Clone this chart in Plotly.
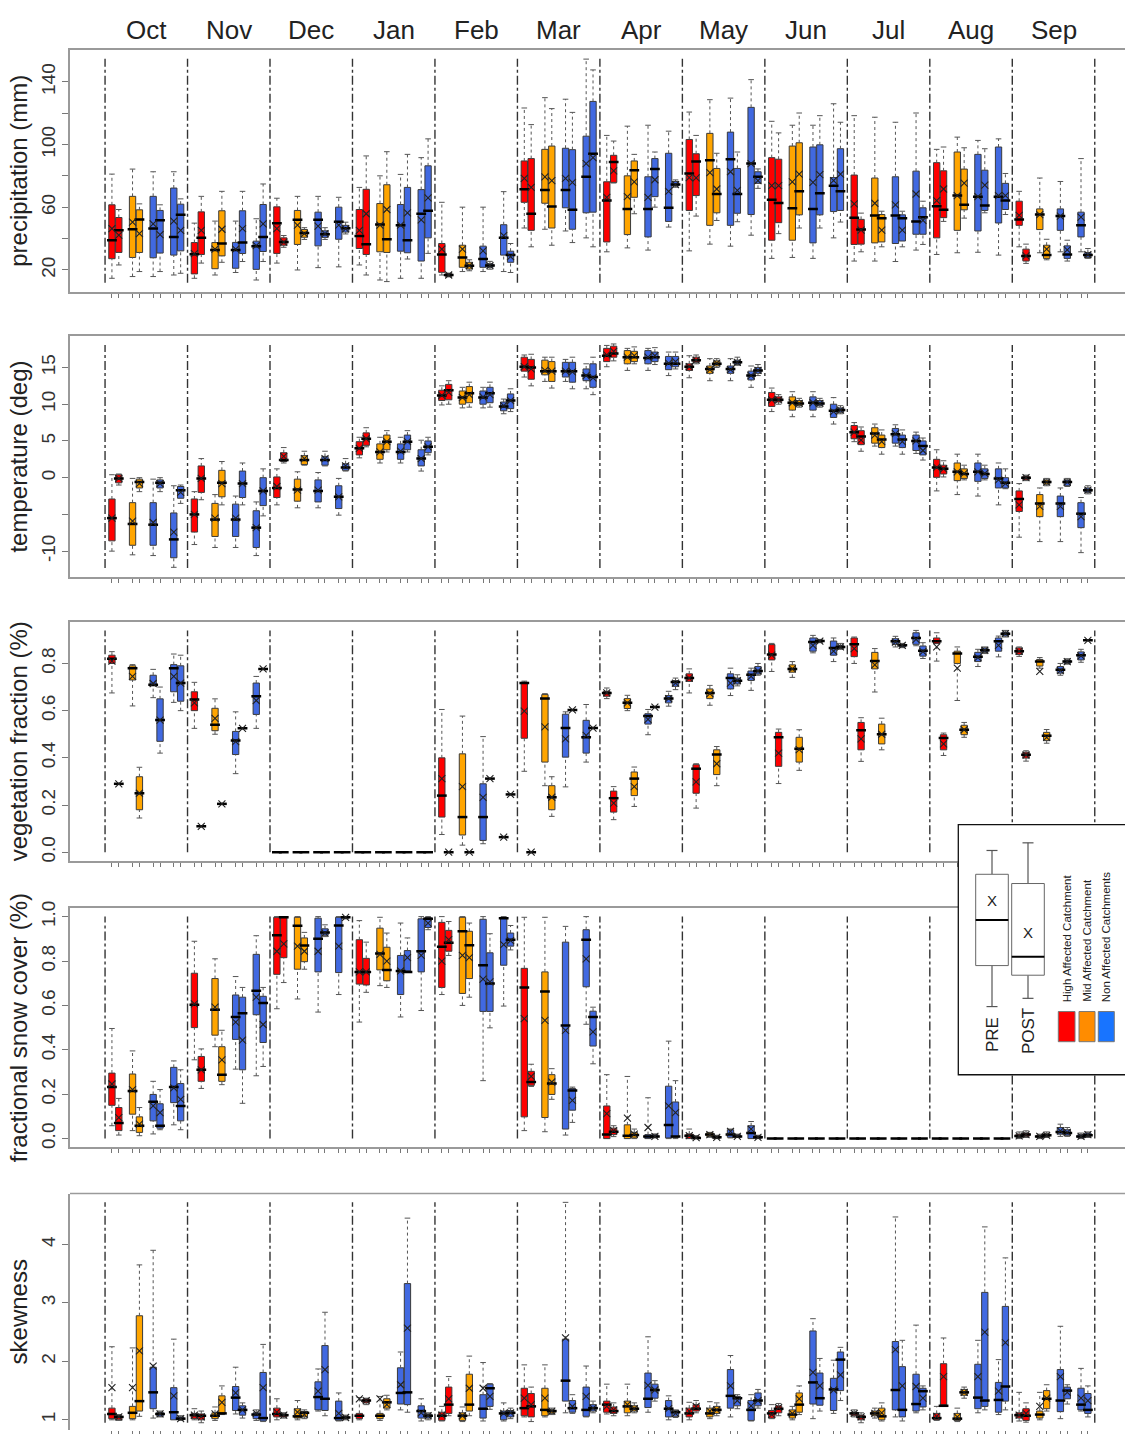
import plotly.graph_objects as go

MONTHS = ["Oct", "Nov", "Dec", "Jan", "Feb", "Mar", "Apr", "May", "Jun", "Jul", "Aug", "Sep"]
GROUPS = ["high", "mid", "non1", "non2"]
PERIODS = ["pre", "post"]
FILL = {"high": "#FF0000", "mid": "#FFA500", "non1": "#4169E1", "non2": "#4169E1"}
Z = (0, 0, 0, 0, 0, None)

# each entry: (whisker_low, q1, median, q3, whisker_high, mean)
# ---------------- precipitation (mm)
precip_high_pre = [(14.7,27.2,39,61.6,81.2,46.4),(14.7,17.5,30.1,37.5,49.9,30.4),(24.4,30.6,49.9,60.3,65.8,46.4),(23.2,33.7,41.7,58.6,72.7,45.3),(16.8,18.5,29.9,36.9,63.2,33.3),(46.8,63.2,71.5,89.6,123.4,78.5),(31.6,37.9,64.3,76.3,105.9,66.4),(32.2,58,81.6,103.3,120.8,79),(27.4,39,64.9,91.7,114.9,73.8),(25.7,36.3,53.4,80.6,118.5,62.2),(29.9,40.5,60.7,88.5,97,64.3),(34.8,48.5,52.3,63.9,70.2,54.8)]
precip_high_post = [(23.2,31.2,45.3,53.5,58.6,42.2),(24.4,29.9,40.5,57.1,67,45.3),(34.5,35.8,37.8,40.5,42,37.8),(16.8,29.9,36.5,71.5,92.8,55.9),(15.6,15.9,16.8,17.7,18.0,16.8),(34.8,45.3,55.9,91.1,112.8,72.7),(75.5,75.9,89,93.2,102.3,83.3),(54.4,67.5,89.2,94.2,105.9,78.8),(43.2,50.2,62.8,90.7,107.5,73.8),(31.6,36.5,45.8,52.3,56.3,45.5),(51,53.4,58.4,83.3,98.5,71.7),(24.2,25.7,29,33.3,36.5,29)]
precip_mid_pre = [(15.8,28,46,67,84.4,50.6),(16.8,20.8,32.7,37.5,51.2,33.3),(20,36.3,52,58,67,48.6),(13.6,31.6,49.1,62.4,80.1,48.6),(19,21.7,28,35.8,60.1,33.3),(46,62.6,71,97,130,79.5),(34.1,42.6,59,80.1,111.8,66.8),(36.5,48.5,90,107.2,128.7,82.2),(28,39,59.4,99.1,112.4,76.3),(25.7,37.3,54.8,78.7,117.5,62.6),(31,45.3,67.5,95.3,104.8,67.5),(31,45.8,55.4,59,78.7,55.4)]
precip_mid_post = [(19,31.2,52.3,58.4,62.2,43.2),(24.9,29,36.9,57.8,70.2,46),(39.5,40.9,43.6,45.8,47,43.2),(12.6,31.2,39.6,74.4,95.5,58.6),(19.5,20.6,22.7,24.9,26.5,22.7),(35.8,46.8,60.5,99.1,123,77),(55.9,66.4,83.7,89.6,93.8,76.3),(51.6,56.5,68.5,84.8,94.5,71.7),(46.8,55.2,70.2,101.2,120.2,81.2),(34.8,37.9,53.1,55.4,57.5,45.5),(53.1,58.4,61.6,84.4,98,75.5),(26.5,27.4,29.5,35.8,39.6,33.3)]
precip_non1_pre = [(15.8,27.8,46.4,67,82.7,49.5),(18.4,21.1,32.7,37.6,51.2,33.3),(21.5,35.4,52,56.9,67,48),(14.7,32,48.6,61.8,81,48.6),(19,21.7,27,35.2,60.1,32.2),(44.9,59.7,71,97.7,129,78.5),(32.7,41.1,59,79.5,112.4,66.4),(35.2,48.5,90.7,108,129.7,82.7),(27.4,37.3,59,98.5,112.4,75.9),(25.4,36.9,54.8,79.5,114.3,61.6),(31.3,44.9,66.8,93.8,102.7,66.8),(31.6,45.3,54.4,59,76.5,54.4)]
precip_non1_post = [(19,30.8,51.8,58,61.6,42.6),(25.4,30.5,37.6,57.8,70.2,46.4),(39.5,40.8,42.8,45,47,43.2),(27,31,39,72.7,93.8,56.5),(20.5,21.7,22.8,24,25.5,22.8),(37.5,46,58.4,96.8,120.6,75.9),(60.1,66.8,84.4,91.1,95.3,77.6),(50.8,56.2,68.5,84.8,95.3,70.8),(46.8,55.2,68.9,99.9,118.5,80.8),(34.8,38.5,53.1,55.2,57.5,45.5),(56.5,58,61.1,83.7,97.4,74.2),(25.7,27.4,29.9,35.4,39,32.8)]
precip_non2_pre = [(16.8,29.5,41,72.3,82.7,51.2),(13.6,20.4,35.2,38.4,52.7,35.6),(22,39.6,50.8,60.1,66.4,48.6),(14.7,25.7,55.9,71.3,91.7,52),(19,29.5,40.5,48.9,70,42),(40.5,56.5,79.5,105.4,154.6,87.9),(47.4,51,59.7,94.5,108.6,70.2),(42.2,55.4,87.9,123.8,141.5,87.9),(40.5,57.3,73.8,79,126.1,77),(32.7,42.8,51,83.1,120.2,68.5),(29.5,50,66.8,98.5,103.7,67.5),(31.6,41.1,48.5,56.9,91.1,53.7)]
precip_non2_post = [(17.9,32.2,55.2,62,65.4,45.3),(25.4,31.8,41,61.8,74.9,49.5),(43,44.2,46.6,48.5,50.5,46.2),(30.6,40.5,57.8,86.5,103.7,66),(18.4,24.9,29.5,32,36.9,28.5),(34.8,56.9,94.2,127.6,147.7,91.7),(72.8,73.6,74.5,76.5,77.5,74.5),(72.1,75.3,79.5,82.7,84.5,77),(50.6,58,70.2,97.4,114.3,81.2),(36.3,42.8,53.7,59.7,63.9,51.7),(55.4,58.6,64.3,75.3,81.6,67.5),(27.4,28,29.5,31.2,33.7,29.8)]

# ---------------- temperature (deg)
temp_high_pre = [(-10,-8.6,-5.5,-2.9,0.4,-5.5),(-9.1,-7.4,-5.0,-2.9,-1.9,-5.0),(-3.7,-2.7,-1.4,0.1,1.2,-1.2),(2.7,3.1,4.0,4.9,5.5,4.0),(9.9,10.5,11.2,11.9,12.5,11.2),(13.7,14.5,15.1,16.4,16.7,15.1),(15.1,15.8,16.6,17.6,18.0,16.7),(13.6,14.6,15.1,15.5,16.6,15.1),(9.0,9.7,10.6,11.6,12.2,10.6),(4.9,5.3,6.2,7.1,7.5,6.2),(-1.8,0.05,1.4,2.5,3.8,1.4),(-8.1,-4.6,-2.9,-1.8,-0.8,-3.7)]
temp_high_post = [(-1.0,-0.7,-0.1,0.4,0.5,-0.1),(-3.0,-2.0,-0.1,1.6,2.6,-0.1),(2.0,2.2,2.4,3.4,4.1,2.9),(4.2,4.4,5.3,6.1,6.8,5.3),(10.0,10.6,11.9,12.7,13.2,11.6),(12.5,13.4,15.0,16.1,16.8,14.8),(15.9,16.4,16.9,17.9,18.2,17.2),(15.5,15.7,16.0,16.4,16.7,16.0),(10.0,10.3,10.6,11.0,11.3,10.6),(3.6,4.5,5.6,6.4,6.9,5.1),(0.1,0.5,1.2,1.7,2.3,1.2),(-0.4,-0.3,0,0.2,0.35,0)]
temp_mid_pre = [(-10.5,-9.2,-6.3,-3.4,-0.1,-5.9),(-9.5,-8.0,-5.7,-3.5,-2.3,-5.5),(-4.1,-3.2,-1.6,-0.2,0.8,-1.7),(2.0,2.5,3.5,4.6,5.5,3.5),(9.5,10.0,10.9,11.8,12.3,10.9),(13.1,14.0,14.5,16.0,16.4,14.6),(14.6,15.5,16.4,17.3,17.6,16.4),(13.2,14.2,14.8,15.2,16.2,14.7),(8.3,9.2,10.2,11.0,11.7,10.2),(4.3,4.7,6.0,6.8,7.3,5.8),(-2.3,-0.4,0.8,2.0,3.2,0.8),(-8.7,-5.3,-3.5,-2.3,-1.4,-3.9)]
temp_mid_post = [(-1.9,-1.4,-0.6,-0.2,0,-0.8),(-3.7,-2.6,-0.7,1.0,2.2,-0.8),(1.7,1.8,2.4,3.0,3.6,2.6),(3.5,3.8,4.9,5.8,6.4,4.9),(9.6,10.2,11.5,12.4,13.0,11.3),(12.2,13.1,14.5,15.8,16.4,14.5),(15.5,15.8,16.4,17.2,17.8,16.6),(15.0,15.2,15.5,15.9,16.2,15.6),(9.6,9.8,10.1,10.5,10.8,10.1),(3.2,4.1,5.2,5.8,6.5,4.9),(-0.3,-0.1,0.5,1.2,1.7,0.6),(-1.1,-0.9,-0.6,-0.3,-0.1,-0.6)]
temp_non1_pre = [(-10.6,-9.2,-6.4,-3.4,-0.2,-6.1),(-9.5,-8.0,-5.7,-3.6,-2.5,-5.5),(-4.1,-3.3,-1.8,-0.3,0.7,-1.7),(2.0,2.5,3.5,4.6,5.5,3.6),(9.5,10.0,10.9,11.8,12.3,11.0),(13.1,13.7,14.5,15.7,16.1,14.5),(14.6,15.5,16.3,17.3,17.6,16.4),(13.2,14.2,14.8,15.2,16.2,14.7),(8.3,9.2,10.2,11.0,11.7,10.2),(4.3,4.7,5.9,6.7,7.2,6.0),(-2.5,-0.5,0.8,2.0,3.2,0.8),(-8.7,-5.3,-3.5,-2.5,-1.4,-3.9)]
temp_non1_post = [(-1.9,-1.4,-0.7,-0.3,0,-0.8),(-3.7,-2.7,-0.8,0.9,2.0,-0.8),(1.6,1.7,2.4,2.9,3.6,2.6),(3.5,3.8,4.9,5.8,6.4,4.9),(9.6,10.2,11.5,12.3,13.0,11.3),(12.1,13.0,14.5,15.7,16.4,14.4),(15.4,15.8,16.4,17.1,17.7,16.6),(15.3,15.4,15.7,16.0,16.4,15.7),(9.6,9.8,10.1,10.5,10.8,10.1),(3.2,4.1,5.2,5.8,6.5,4.9),(-0.3,-0.1,0.5,1.2,1.7,0.6),(-1.2,-1.1,-0.6,-0.3,-0.1,-0.6)]
temp_non2_pre = [(-12.2,-10.9,-8.4,-4.8,-1.1,-7.4),(-10.6,-9.5,-6.8,-4.5,-3.3,-6.8),(-5.1,-4.2,-2.6,-1.1,-0.1,-2.6),(0.9,1.6,2.6,3.8,5.1,2.6),(8.7,9.1,9.7,10.3,10.7,9.8),(12.1,13.2,13.9,14.8,15.5,13.9),(13.9,14.7,15.5,16.5,17.1,15.6),(12.3,13.3,13.9,14.5,15.2,13.9),(7.3,8.2,9.1,10.0,10.9,9.0),(3.3,3.7,5.0,5.8,6.2,5.0),(-3.7,-1.4,-0.1,1.2,2.0,-0.3),(-10.2,-6.8,-4.9,-3.4,-2.7,-5.3)]
temp_non2_post = [(-3.5,-2.8,-1.7,-1.2,-1.0,-2.0),(-5.2,-3.8,-1.8,0,1.2,-1.8),(0.9,1.0,1.4,1.9,2.6,1.6),(3.1,3.4,4.2,5.0,5.5,4.2),(9.0,9.4,10.5,11.4,12.1,10.5),(11.3,12.3,13.7,15.5,16.4,13.6),(14.8,15.1,15.5,16.5,17.1,15.8),(13.9,14.2,14.6,15.0,15.4,14.6),(8.7,8.9,9.2,9.5,9.8,9.2),(2.4,3.1,4.3,5.0,5.4,3.7),(-1.5,-1.4,-0.7,0,1.2,-0.8),(-2.2,-2.0,-1.7,-1.4,-1.1,-1.7)]

# ---------------- vegetation fraction
veg_high_pre = [(0.675,0.80,0.82,0.835,0.85,0.81),(0.525,0.60,0.647,0.68,0.72,0.633),Z,Z,(0.075,0.149,0.24,0.40,0.605,0.312),(0.343,0.483,0.717,0.72,0.725,0.598),(0.651,0.661,0.675,0.682,0.696,0.675),(0.675,0.724,0.738,0.756,0.777,0.738),(0.766,0.815,0.838,0.88,0.885,0.835),(0.80,0.829,0.881,0.908,0.912,0.863),(0.81,0.884,0.894,0.908,0.93,0.87),(0.83,0.838,0.852,0.866,0.87,0.852)]
veg_high_post = [(0.29,0.29,0.29,0.29,0.29,0.29),(0.11,0.11,0.11,0.11,0.11,0.11),Z,Z,(0,0,0,0,0,0),(0,0,0,0,0,0),(0.138,0.17,0.229,0.259,0.278,0.208),(0.187,0.25,0.354,0.371,0.375,0.298),(0.291,0.364,0.487,0.508,0.522,0.42),(0.385,0.434,0.517,0.55,0.57,0.48),(0.41,0.434,0.484,0.498,0.505,0.459),(0.386,0.399,0.413,0.424,0.43,0.412)]
veg_mid_pre = [(0.62,0.73,0.78,0.79,0.795,0.745),(0.50,0.515,0.54,0.61,0.65,0.567),Z,Z,(0.03,0.073,0.149,0.417,0.577,0.278),(0.282,0.382,0.651,0.668,0.672,0.531),(0.60,0.609,0.633,0.651,0.665,0.633),(0.623,0.651,0.675,0.692,0.707,0.672),(0.741,0.763,0.777,0.794,0.808,0.777),(0.679,0.777,0.81,0.847,0.863,0.794),(0.643,0.80,0.842,0.852,0.87,0.78),(0.78,0.789,0.808,0.817,0.825,0.766)]
veg_mid_post = [(0.145,0.18,0.25,0.32,0.36,0.25),(0.205,0.205,0.205,0.205,0.205,0.205),Z,Z,(0,0,0,0,0,0),(0.152,0.18,0.233,0.282,0.32,0.233),(0.194,0.24,0.312,0.34,0.361,0.278),(0.282,0.329,0.414,0.434,0.448,0.375),(0.347,0.382,0.438,0.487,0.519,0.435),(0.434,0.459,0.50,0.543,0.568,0.50),(0.487,0.498,0.519,0.538,0.55,0.519),(0.462,0.473,0.494,0.508,0.52,0.487)]
veg_non1_pre = [(0.655,0.705,0.71,0.75,0.775,0.715),(0.333,0.414,0.473,0.512,0.595,0.469),Z,Z,(0.036,0.05,0.149,0.29,0.49,0.232),(0.277,0.403,0.526,0.585,0.595,0.48),(0.498,0.543,0.577,0.587,0.605,0.563),(0.664,0.692,0.738,0.756,0.78,0.717),(0.845,0.852,0.891,0.908,0.919,0.877),(0.87,0.88,0.894,0.905,0.915,0.89),(0.787,0.808,0.828,0.847,0.86,0.825),(0.75,0.759,0.773,0.787,0.80,0.77)]
veg_non1_post = [(0.42,0.47,0.56,0.65,0.70,0.56),(0.525,0.525,0.525,0.525,0.525,0.525),Z,Z,(0.312,0.312,0.312,0.312,0.312,0.312),(0.603,0.603,0.603,0.603,0.603,0.603),(0.615,0.615,0.615,0.615,0.615,0.615),(0.705,0.713,0.727,0.738,0.752,0.727),(0.888,0.891,0.895,0.899,0.902,0.895),(0.867,0.87,0.877,0.881,0.885,0.877),(0.842,0.847,0.856,0.866,0.87,0.856),(0.797,0.80,0.808,0.815,0.82,0.808)]
veg_non2_pre = [(0.635,0.68,0.78,0.795,0.84,0.745),(0.525,0.584,0.661,0.717,0.745,0.643),Z,Z,(0.064,0.064,0.064,0.064,0.064,0.064),(0.382,0.42,0.487,0.559,0.626,0.495),(0.619,0.633,0.651,0.664,0.682,0.651),(0.686,0.728,0.752,0.768,0.78,0.745),(0.808,0.835,0.866,0.895,0.908,0.852),(0.875,0.881,0.908,0.93,0.94,0.902),(0.828,0.852,0.894,0.908,0.916,0.877),(0.805,0.815,0.835,0.849,0.86,0.832)]
veg_non2_post = [(0.60,0.64,0.717,0.79,0.835,0.717),(0.777,0.777,0.777,0.777,0.777,0.777),Z,Z,(0.245,0.245,0.245,0.245,0.245,0.245),(0.526,0.526,0.526,0.526,0.526,0.526),(0.689,0.703,0.721,0.727,0.738,0.717),(0.75,0.755,0.768,0.787,0.80,0.768),(0.86,0.863,0.87,0.877,0.885,0.87),(0.821,0.831,0.854,0.874,0.888,0.85),(0.912,0.916,0.926,0.933,0.94,0.926),(0.898,0.898,0.898,0.898,0.898,0.898)]

# ---------------- fractional snow cover
snow_high_pre = [(0.058,0.15,0.232,0.295,0.496,0.246),(0.355,0.50,0.603,0.745,0.889,0.607),(0.585,0.74,0.916,0.997,1.0,0.844),(0.525,0.696,0.751,0.896,0.982,0.751),(0.649,0.681,0.864,0.974,1.0,0.80),(0.036,0.098,0.681,0.767,0.997,0.54),(0,0,0.018,0.147,0.288,0.113),(0,0,0.013,0.021,0.043,0.013),Z,Z,Z,(0,0.005,0.012,0.02,0.03,0.012)]
snow_high_post = [(0.016,0.036,0.07,0.14,0.181,0.095),(0.226,0.258,0.31,0.37,0.404,0.31),(0.703,0.815,0.997,1.0,1.0,0.877),(0.659,0.692,0.751,0.812,0.885,0.751),(0.825,0.844,0.882,0.938,0.978,0.896),(0.235,0.24,0.255,0.303,0.335,0.28),(0.009,0.018,0.031,0.047,0.058,0.036),(0,0,0.003,0.01,0.013,0.004),Z,Z,Z,(0.005,0.01,0.018,0.025,0.035,0.018)]
snow_mid_pre = [(0.036,0.11,0.214,0.291,0.395,0.221),(0.414,0.466,0.58,0.721,0.81,0.592),(0.629,0.763,0.959,0.997,1.0,0.867),(0.689,0.76,0.834,0.948,0.997,0.83),(0.60,0.654,0.934,0.997,1.0,0.825),(0.031,0.095,0.663,0.751,0.997,0.533),(0,0,0.013,0.062,0.28,0.092),(0.006,0.009,0.018,0.028,0.028,0.018),Z,Z,Z,(0,0.005,0.01,0.015,0.02,0.01)]
snow_mid_post = [(0.013,0.028,0.058,0.098,0.14,0.065),(0.243,0.258,0.288,0.414,0.488,0.355),(0.763,0.797,0.87,0.904,0.929,0.844),(0.681,0.711,0.76,0.862,0.926,0.80),(0.637,0.721,0.871,0.934,0.971,0.815),(0.177,0.199,0.248,0.288,0.315,0.255),(0,0.003,0.016,0.028,0.043,0.02),(0,0,0.006,0.013,0.015,0.006),Z,Z,Z,(0.005,0.01,0.015,0.022,0.03,0.015)]
snow_non1_pre = [(0.021,0.08,0.166,0.199,0.258,0.147),(0.313,0.447,0.548,0.647,0.73,0.525),(0.57,0.751,0.90,0.993,1.0,0.844),(0.548,0.649,0.755,0.825,0.971,0.755),(0.261,0.573,0.781,0.988,1.0,0.718),(0.016,0.043,0.51,0.885,0.956,0.488),(0,0,0.009,0.018,0.184,0.05),(0.003,0.006,0.018,0.04,0.043,0.033),Z,Z,Z,(0.01,0.02,0.03,0.05,0.065,0.035)]
snow_non1_post = [(0.04,0.047,0.058,0.157,0.221,0.117),(0.159,0.31,0.565,0.637,0.681,0.444),(0.91,0.916,0.929,0.945,0.963,0.926),(0.751,0.751,0.751,0.847,0.904,0.815),(0.499,0.573,0.699,0.837,0.923,0.706),(0.073,0.128,0.217,0.226,0.232,0.172),(0.003,0.006,0.01,0.018,0.021,0.01),(0.006,0.006,0.01,0.018,0.02,0.01),Z,Z,Z,(0.01,0.015,0.025,0.04,0.05,0.028)]
snow_non2_pre = [(0.062,0.162,0.232,0.321,0.35,0.229),(0.283,0.558,0.666,0.83,0.914,0.637),(0.649,0.748,0.96,0.997,1.0,0.867),(0.577,0.751,0.844,0.99,1.0,0.825),(0.597,0.781,0.993,0.997,1.0,0.874),(0.515,0.684,0.896,0.941,1.0,0.81),(0,0.003,0.061,0.236,0.439,0.147),(0,0,0.025,0.058,0.077,0.043),Z,Z,Z,(0,0.003,0.01,0.018,0.025,0.01)]
snow_non2_post = [(0.04,0.08,0.147,0.248,0.31,0.177),(0.325,0.433,0.611,0.641,0.681,0.514),(0.99,0.993,0.997,1.0,1.0,0.997),(0.941,0.951,0.99,0.996,1.0,0.971),(0.85,0.867,0.896,0.926,0.96,0.892),(0.337,0.417,0.548,0.574,0.592,0.481),(0,0.006,0.01,0.165,0.261,0.117),(0,0,0.006,0.013,0.015,0.006),Z,Z,Z,(0.005,0.01,0.015,0.025,0.03,0.018)]

# ---------------- skewness
skew_high_pre = [(1.0,1.02,1.1,1.2,2.25,1.55),(1.0,1.02,1.08,1.11,1.19,1.08),(1.0,1.05,1.1,1.2,1.36,1.13),(1.0,1.02,1.07,1.11,1.38,1.36),(0.98,0.99,1.07,1.13,1.23,1.08),(1.05,1.07,1.2,1.54,1.94,1.37),(1.1,1.13,1.26,1.32,1.61,1.23),(1.0,1.05,1.11,1.2,1.3,1.15),(1.02,1.03,1.11,1.16,1.26,1.09),(1.05,1.07,1.11,1.13,1.17,1.11),(0.99,1.0,1.03,1.11,1.23,1.06),(0.98,1.03,1.08,1.12,1.47,1.08)]
skew_high_post = [(0.99,1.0,1.05,1.07,1.09,1.05),(0.95,1.0,1.07,1.1,1.15,1.05),(1.03,1.05,1.08,1.1,1.12,1.08),(1.26,1.29,1.33,1.36,1.37,1.33),(1.07,1.11,1.26,1.56,1.74,1.36),(0.97,1.05,1.23,1.45,1.56,1.26),(1.07,1.11,1.15,1.22,1.29,1.17),(1.12,1.15,1.19,1.26,1.33,1.23),(1.07,1.12,1.19,1.24,1.28,1.21),(0.95,1.0,1.05,1.08,1.12,1.05),(1.23,1.24,1.24,1.96,2.4,1.74),(0.96,0.99,1.07,1.19,1.29,1.11)]
skew_mid_pre = [(1.0,1.02,1.12,1.23,2.23,1.55),(0.99,1.02,1.07,1.12,1.22,1.1),(1.0,1.03,1.06,1.19,1.33,1.13),(0.99,1.02,1.07,1.11,1.4,1.36),(0.97,0.99,1.07,1.12,1.22,1.07),(1.05,1.07,1.17,1.54,1.94,1.37),(1.07,1.12,1.23,1.32,1.61,1.26),(1.02,1.05,1.11,1.2,1.31,1.15),(1.0,1.03,1.09,1.17,1.23,1.11),(1.03,1.07,1.11,1.15,1.2,1.11),(0.97,0.99,1.02,1.11,1.2,1.05),(1.0,1.03,1.09,1.15,1.47,1.23)]
skew_mid_post = [(1.06,1.15,1.32,2.78,3.65,2.18),(1.09,1.1,1.11,1.41,1.58,1.3),(1.02,1.05,1.12,1.14,1.17,1.09),(1.17,1.2,1.3,1.36,1.42,1.26),(1.07,1.15,1.26,1.78,2.09,1.54),(1.09,1.11,1.15,1.17,1.2,1.15),(1.12,1.15,1.19,1.24,1.29,1.19),(1.07,1.11,1.17,1.23,1.29,1.17),(1.09,1.13,1.26,1.46,1.58,1.36),(0.98,1.0,1.06,1.2,1.29,1.12),(1.37,1.42,1.47,1.52,1.56,1.47),(1.15,1.19,1.36,1.5,1.6,1.37)]
skew_non1_pre = [(1.03,1.19,1.47,1.9,3.9,1.92),(1.1,1.16,1.38,1.57,1.9,1.46),(1.15,1.17,1.39,1.65,1.87,1.49),(1.17,1.27,1.46,1.89,2.16,1.6),(0.98,1.03,1.19,1.43,1.98,1.54),(1.12,1.32,1.67,2.38,4.72,2.4),(1.13,1.21,1.36,1.8,2.42,1.59),(1.05,1.2,1.41,1.86,2.1,1.58),(1.02,1.27,1.64,2.52,2.73,1.81),(1.05,1.17,1.51,2.34,4.47,2.2),(1.12,1.19,1.38,1.95,2.36,1.74),(1.02,1.14,1.33,1.86,2.6,1.74)]
skew_non1_post = [(1.05,1.06,1.1,1.13,1.15,1.1),(1.03,1.08,1.17,1.24,1.29,1.17),(1.07,1.16,1.36,2.27,2.84,1.86),(1.13,1.26,1.47,3.33,4.45,2.57),(1.18,1.23,1.54,1.61,1.62,1.4),(1.11,1.13,1.2,1.33,1.43,1.23),(1.32,1.37,1.51,1.61,1.67,1.51),(1.19,1.24,1.37,1.4,1.43,1.33),(1.15,1.25,1.37,1.8,2.05,1.58),(0.98,1.05,1.17,1.91,2.36,1.58),(1.17,1.23,1.33,3.18,4.3,2.5),(1.27,1.36,1.5,1.56,1.6,1.47)]
skew_non2_pre = [(1.0,1.0,1.13,1.55,2.38,1.41),(0.99,1.02,1.09,1.12,1.17,1.11),(0.98,0.99,1.03,1.32,1.46,1.11),(0.98,1.03,1.15,1.24,1.36,1.12),(0.98,1.0,1.11,1.15,1.29,1.11),(1.05,1.06,1.17,1.56,1.92,1.4),(1.0,1.05,1.19,1.33,1.41,1.19),(0.98,0.99,1.17,1.33,1.43,1.24),(1.11,1.16,1.52,1.71,2.02,1.51),(1.12,1.15,1.27,1.78,2.62,1.57),(1.09,1.13,1.34,1.64,2.03,1.49),(1.15,1.17,1.26,1.54,1.88,1.37)]
skew_non2_post = [(0.99,1.0,1.02,1.05,1.07,1.02),(0.97,0.98,1.03,1.81,2.29,1.55),(1.0,1.02,1.04,1.06,1.08,1.04),(1.0,1.03,1.07,1.1,1.12,1.07),(1.02,1.05,1.12,1.16,1.2,1.12),(1.12,1.15,1.2,1.26,1.32,1.2),(1.04,1.06,1.13,1.16,1.17,1.11),(1.2,1.24,1.33,1.46,1.52,1.33),(1.33,1.5,2.03,2.16,2.24,1.77),(1.17,1.22,1.49,1.54,1.58,1.37),(1.17,1.32,1.57,2.94,3.77,2.32),(1.05,1.11,1.17,1.45,1.58,1.33)]

# ---------------- axis definitions
precip_ticks = [20, 40, 60, 80, 100, 120, 140]
precip_ticktext = ["20", "", "60", "", "100", "", "140"]
temp_ticks = [-10, -5, 0, 5, 10, 15]
temp_ticktext = ["-10", "", "0", "5", "10", "15"]
veg_ticks = [0.0, 0.2, 0.4, 0.6, 0.8]
veg_ticktext = ["0.0", "0.2", "0.4", "0.6", "0.8"]
snow_ticks = [0.0, 0.2, 0.4, 0.6, 0.8, 1.0]
snow_ticktext = ["0.0", "0.2", "0.4", "0.6", "0.8", "1.0"]
skew_ticks = [1, 2, 3, 4]
skew_ticktext = ["1", "2", "3", "4"]

G = globals()
PANELS = [
    dict(key="precip", title="precipitation (mm)", lim=(11.8, 154.9), ticks=precip_ticks, text=precip_ticktext, px=(43, 287), low=None),
    dict(key="temp", title="temperature (deg)", lim=(-12.29, 18.05), ticks=temp_ticks, text=temp_ticktext, px=(331.7, 574.3), low=None),
    dict(key="veg", title="vegetation fraction (%)", lim=(0.0, 0.94), ticks=veg_ticks, text=veg_ticktext, px=(619.3, 860.7), low=None),
    dict(key="snow", title="fractional snow cover (%)", lim=(0.0, 1.0), ticks=snow_ticks, text=snow_ticktext, px=(907.7, 1149.3), low=None),
    dict(key="skew", title="skewness", lim=(0.95, 4.72), ticks=skew_ticks, text=skew_ticktext, px=(1195.7, 1434), low=0.826),
]

W, H = 1125, 1434
LEFT = 70
NM = len(MONTHS)


def xpos(m, g, p):
    return m * 12 + 3 * g + p + 1


all_x = sorted(xpos(m, g, p) for m in range(NM) for g in range(4) for p in range(2))
XR = [-5.1, 148.4]

fig = go.Figure()
shapes = []
annotations = []
layout = {}


def PX(px):
    return (px - LEFT) / (W - LEFT)


def PY(py):
    return 1 - py / H


for i, P in enumerate(PANELS, start=1):
    xa = "x" if i == 1 else f"x{i}"
    ya = "y" if i == 1 else f"y{i}"
    a, b = P["lim"]
    d = b - a
    lo_r, hi_r = a - 0.04 * d, b + 0.04 * d
    if P["low"] is not None:
        lo_r = P["low"]
    top, bot = P["px"]
    wx, wy, wc, wm = [], [], [], []
    cx, cy = [], []
    mx, my = [], []
    for g, grp in enumerate(GROUPS):
        for p, per in enumerate(PERIODS):
            data = G[f"{P['key']}_{grp}_{per}"]
            xs = [xpos(m, g, p) for m in range(NM)]
            q1 = [r[1] for r in data]
            med = [r[2] for r in data]
            q3 = [r[3] for r in data]
            fig.add_trace(go.Box(
                x=xs, q1=q1, median=med, q3=q3, lowerfence=q1, upperfence=q3,
                width=0.92, fillcolor=FILL[grp], line=dict(color="#3a3a3a", width=1),
                boxpoints=False, whiskerwidth=0, showlegend=False, hoverinfo="skip",
                xaxis=xa, yaxis=ya))
            for x, r in zip(xs, data):
                lo, a1, md, a3, hi, mn = r
                if hi > a3:
                    wx += [x, x, None]; wy += [a3, hi, None]
                    cx.append(x); cy.append(hi)
                if lo < a1:
                    wx += [x, x, None]; wy += [lo, a1, None]
                    cx.append(x); cy.append(lo)
                wc.append(x); wm.append(md)
                if mn is not None:
                    mx.append(x); my.append(mn)
    fig.add_trace(go.Scatter(x=wx, y=wy, mode="lines", line=dict(color="#555", width=1, dash="dot"),
                             showlegend=False, hoverinfo="skip", xaxis=xa, yaxis=ya))
    fig.add_trace(go.Scatter(x=cx, y=cy, mode="markers",
                             marker=dict(symbol="line-ew", size=4, line=dict(color="#555", width=1)),
                             showlegend=False, hoverinfo="skip", xaxis=xa, yaxis=ya))
    fig.add_trace(go.Scatter(x=wc, y=wm, mode="markers",
                             marker=dict(symbol="line-ew", size=7, line=dict(color="#000", width=2.5)),
                             showlegend=False, hoverinfo="skip", xaxis=xa, yaxis=ya))
    fig.add_trace(go.Scatter(x=mx, y=my, mode="markers",
                             marker=dict(symbol="x-thin", size=7, line=dict(color="#222", width=1.1)),
                             showlegend=False, hoverinfo="skip", xaxis=xa, yaxis=ya))

    last = (i == len(PANELS))
    kx = "xaxis" if i == 1 else f"xaxis{i}"
    ky = "yaxis" if i == 1 else f"yaxis{i}"
    layout[kx] = dict(domain=[0, 1], anchor=ya, range=XR, tickvals=all_x, ticks="outside", ticklen=4,
                      tickwidth=1, tickcolor="#777", showticklabels=False, showline=not last,
                      linecolor="#9a9a9a", linewidth=1.5, mirror=True, showgrid=False, zeroline=False,
                      fixedrange=True)
    layout[ky] = dict(domain=[max(0, 1 - bot / H), 1 - top / H], anchor=xa, range=[lo_r, hi_r],
                      tickvals=P["ticks"], ticktext=P["text"], tickangle=-90, ticks="outside", ticklen=6,
                      tickwidth=1, tickcolor="#777", tickfont=dict(size=19, color="#333"),
                      showline=True, linecolor="#9a9a9a", linewidth=1.5, showgrid=False, zeroline=False,
                      title=dict(text=P["title"], font=dict(size=24, color="#222"), standoff=3))
    if last:
        shapes.append(dict(type="line", xref="paper", yref="paper", x0=0, x1=1, y0=PY(top), y1=PY(top),
                           line=dict(color="#9a9a9a", width=1.5), layer="above"))
    for m in range(NM + 1):
        shapes.append(dict(type="line", xref=xa, yref=ya, x0=12 * m, x1=12 * m, y0=a, y1=b,
                           line=dict(color="#333", width=1.4, dash="dashdot"), layer="below"))

# month labels
for m, name in enumerate(MONTHS):
    annotations.append(dict(x=12 * m + 6, y=PY(23), xref="x", yref="paper", text=name, showarrow=False,
                            font=dict(size=26, color="#222"), xanchor="center", yanchor="middle"))


def rect(x0, y0, x1, y1, fill="white", color="#000", width=1.2):
    shapes.append(dict(type="rect", xref="paper", yref="paper", x0=PX(x0), x1=PX(x1), y0=PY(y1), y1=PY(y0),
                       fillcolor=fill, line=dict(color=color, width=width), layer="above"))


def seg(x0, y0, x1, y1, color="#555", width=1.2):
    shapes.append(dict(type="line", xref="paper", yref="paper", x0=PX(x0), x1=PX(x1), y0=PY(y0), y1=PY(y1),
                       line=dict(color=color, width=width), layer="above"))


# legend
rect(958.3, 824, 1135, 1076, color="#111", width=1.3)
for (cxp, b0, b1, wlo, whi, mdy, mny, lab, laby) in [
        (992, 874, 966, 1007.3, 850, 920, 900, "PRE", 1036),
        (1028, 883.3, 975.7, 999, 842.3, 957, 932.7, "POST", 1032)]:
    seg(cxp, whi, cxp, b0)
    seg(cxp, b1, cxp, wlo)
    seg(cxp - 5.5, whi, cxp + 5.5, whi)
    seg(cxp - 5.5, wlo, cxp + 5.5, wlo)
    rect(cxp - 16.3, b0, cxp + 16.3, b1, color="#666", width=1)
    seg(cxp - 16.3, mdy, cxp + 16.3, mdy, color="#000", width=2)
    annotations.append(dict(x=PX(cxp), y=PY(mny), xref="paper", yref="paper", text="X", showarrow=False,
                            font=dict(size=15, color="#222"), xanchor="center", yanchor="middle"))
    annotations.append(dict(x=PX(cxp), y=PY(laby), xref="paper", yref="paper", text=lab, showarrow=False,
                            textangle=-90, font=dict(size=17, color="#222"), xanchor="center", yanchor="middle"))

for (x0, x1, col, lab, lx) in [(1058.3, 1075, "#FF0000", "High Affected Catchment", 1067),
                               (1079, 1095, "#FF8C00", "Mid Affected Catchment", 1087),
                               (1098.3, 1114.3, "#1874FF", "Non Affected Catchments", 1106)]:
    rect(x0, 1012.3, x1, 1042.7, fill=col, color="#777", width=1)
    annotations.append(dict(x=PX(lx), y=PY(1005), xref="paper", yref="paper", text=lab, showarrow=False,
                            textangle=-90, font=dict(size=11.5, color="#222"), xanchor="center", yanchor="bottom"))

fig.update_layout(**layout)
fig.update_layout(width=W, height=H, margin=dict(l=LEFT, r=0, t=0, b=0), boxmode="overlay",
                  plot_bgcolor="white", paper_bgcolor="white", showlegend=False,
                  font=dict(family="Liberation Sans, Arial, sans-serif", color="#222"),
                  shapes=shapes, annotations=annotations)
fig.write_html("out.html")
